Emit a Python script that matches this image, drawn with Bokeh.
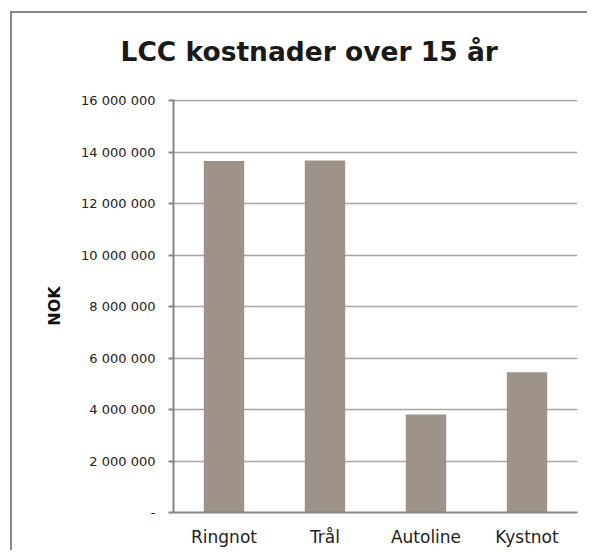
from bokeh.plotting import figure
from bokeh.models import Range1d, FixedTicker
from bokeh.embed import file_html
from bokeh.resources import INLINE

categories = ["Ringnot", "Trål", "Autoline", "Kystnot"]
values = [13650000, 13670000, 3810000, 5450000]
y_ticks = [0, 2000000, 4000000, 6000000, 8000000, 10000000, 12000000, 14000000, 16000000]
y_tick_labels = ["-", "2 000 000", "4 000 000", "6 000 000", "8 000 000",
                 "10 000 000", "12 000 000", "14 000 000", "16 000 000"]
title_text = "LCC kostnader over 15 år"
y_label = "NOK"

FONT = "DejaVu Sans"

p = figure(x_range=categories, y_range=Range1d(0, 16040000),
           width=587, height=550, output_backend="svg", toolbar_location=None,
           min_border_left=173, min_border_right=10, min_border_top=98, min_border_bottom=38)
# chart-area frame lines (left and top) drawn as CSS background behind a transparent border fill
p.styles = {
    "background": ("linear-gradient(#878787, #878787) 10px 11px / 2px 100% no-repeat, "
                   "linear-gradient(#878787, #878787) 10px 11px / 100% 2px no-repeat, white"),
    "overflow": "hidden",
}
p.outline_line_color = None
p.background_fill_color = "white"
p.border_fill_color = None

p.vbar(x=categories, top=values, width=0.4, color="#9d9389", line_color=None)

# grid
p.xgrid.grid_line_color = None
p.ygrid.ticker = FixedTicker(ticks=y_ticks)
p.ygrid.grid_line_color = "#a6a6a6"
p.ygrid.grid_line_width = 1.5

# y axis
p.yaxis.ticker = FixedTicker(ticks=y_ticks)
p.yaxis.major_label_overrides = {t: s for t, s in zip(y_ticks, y_tick_labels)}
p.yaxis.axis_line_color = "#868686"
p.yaxis.axis_line_width = 2
p.yaxis.major_tick_line_color = "#868686"
p.yaxis.major_tick_line_width = 2
p.yaxis.major_tick_out = 5
p.yaxis.major_tick_in = 0
p.yaxis.minor_tick_line_color = None
p.yaxis.major_label_text_font = FONT
p.yaxis.major_label_text_font_size = "13px"
p.yaxis.major_label_text_color = "#222222"
p.yaxis.major_label_standoff = 13
p.yaxis.axis_label = y_label
p.yaxis.axis_label_text_font = FONT
p.yaxis.axis_label_text_font_style = "bold"
p.yaxis.axis_label_text_font_size = "16px"
p.yaxis.axis_label_text_color = "#111111"
p.yaxis.axis_label_standoff = 14

# x axis
p.xaxis.axis_line_color = "#868686"
p.xaxis.axis_line_width = 2
p.xaxis.major_tick_line_color = None
p.xaxis.minor_tick_line_color = None
p.xaxis.major_label_text_font = FONT
p.xaxis.major_label_text_font_size = "17px"
p.xaxis.major_label_text_color = "#222222"
p.xaxis.major_label_standoff = 8

# title
p.title.text = title_text
p.title.align = "left"
p.title.offset = -53
p.title.standoff = 66
p.title.text_font = FONT
p.title.text_font_style = "bold"
p.title.text_font_size = "26.5px"
p.title.text_color = "#1a1a1a"

open("out.html", "w").write(file_html(p, INLINE))
